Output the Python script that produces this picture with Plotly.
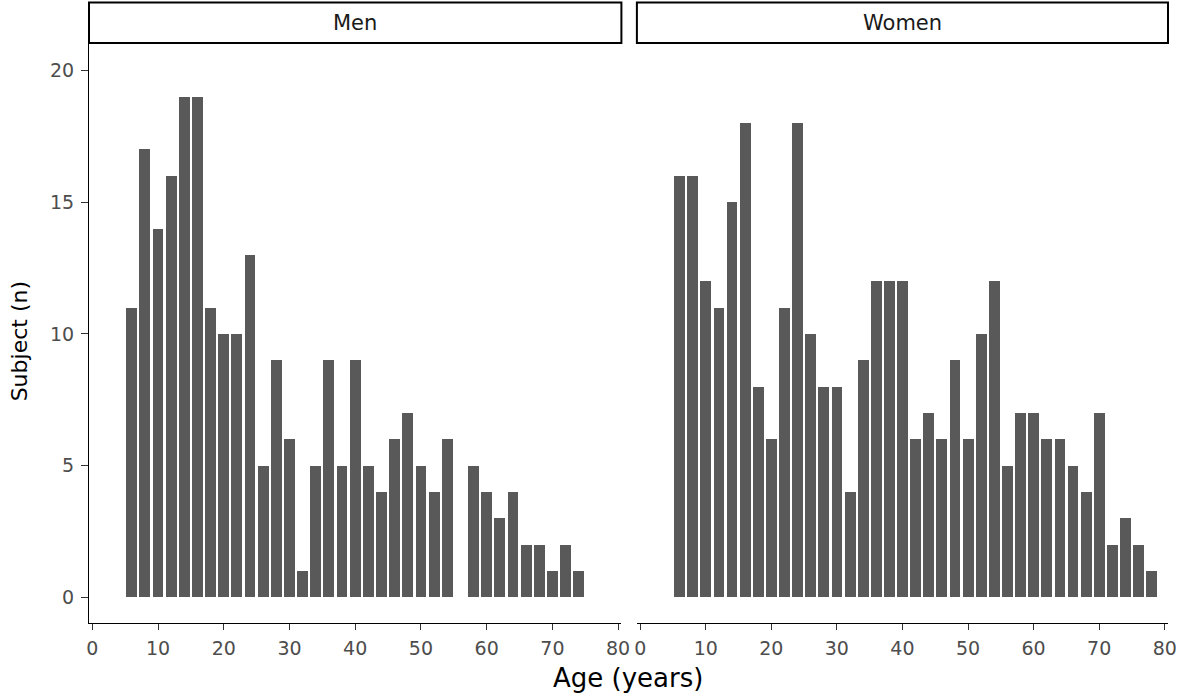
import plotly.graph_objects as go

# Data (age bin centres, counts)
ages_men = [6, 8, 10, 12, 14, 16, 18, 20, 22, 24, 26, 28, 30, 32, 34, 36, 38, 40,
            42, 44, 46, 48, 50, 52, 54, 56, 58, 60, 62, 64, 66, 68, 70, 72, 74]
count_men = [11, 17, 14, 16, 19, 19, 11, 10, 10, 13, 5, 9, 6, 1, 5, 9, 5, 9,
             5, 4, 6, 7, 5, 4, 6, 0, 5, 4, 3, 4, 2, 2, 1, 2, 1]
ages_women = [6, 8, 10, 12, 14, 16, 18, 20, 22, 24, 26, 28, 30, 32, 34, 36, 38, 40,
              42, 44, 46, 48, 50, 52, 54, 56, 58, 60, 62, 64, 66, 68, 70, 72, 74, 76, 78]
count_women = [16, 16, 12, 11, 15, 18, 8, 6, 11, 18, 10, 8, 8, 4, 9, 12, 12, 12,
               6, 7, 6, 9, 6, 10, 12, 5, 7, 7, 6, 6, 5, 4, 7, 2, 3, 2, 1]
panels = ["Men", "Women"]
x_ticks = [0, 10, 20, 30, 40, 50, 60, 70, 80]
y_ticks = [0, 5, 10, 15, 20]

BAR = "#595959"
FONT = "DejaVu Sans, Verdana, sans-serif"

fig = go.Figure()
fig.add_trace(go.Bar(x=ages_men, y=count_men, width=1.65,
                     marker=dict(color=BAR, line=dict(width=0)),
                     xaxis="x", yaxis="y", showlegend=False))
fig.add_trace(go.Bar(x=ages_women, y=count_women, width=1.65,
                     marker=dict(color=BAR, line=dict(width=0)),
                     xaxis="x2", yaxis="y2", showlegend=False))

W, H = 1181, 696
ml, mr, mt, mb = 88.7, 12.5, 43.3, 72.7
pw = W - ml - mr
ph = H - mt - mb
d1_end = (621.5 - ml) / pw
d2_start = (637.0 - ml) / pw

tickfont = dict(family=FONT, size=19, color="#4d4d4d")
xcommon = dict(range=[-0.5, 80.5], tickvals=x_ticks, ticks="outside", ticklen=6, tickwidth=1,
               tickcolor="#333333", showline=True, linecolor="black", linewidth=1.2,
               showgrid=False, zeroline=False, tickfont=tickfont, ticklabelstandoff=2)
ycommon = dict(range=[-0.97, 21.04], showgrid=False, zeroline=False)

fig.update_layout(
    width=W, height=H,
    margin=dict(l=ml, r=mr, t=mt, b=mb, autoexpand=False),
    paper_bgcolor="white", plot_bgcolor="white",
    bargap=0,
    xaxis=dict(domain=[0, d1_end], anchor="y", automargin=False, **xcommon),
    xaxis2=dict(domain=[d2_start, 1], anchor="y2", automargin=False, **xcommon),
    yaxis=dict(domain=[0, 1], anchor="x", tickvals=y_ticks, ticks="outside", ticklen=7,
               tickcolor="#333333", showline=True, linecolor="black", linewidth=1.2,
               tickfont=tickfont, ticklabelstandoff=3, automargin=False, **ycommon),
    yaxis2=dict(domain=[0, 1], anchor="x2", showticklabels=False, showline=False, ticks="",
                automargin=False, **ycommon),
    font=dict(family=FONT),
)

strip_top = 1 + (mt - 2.7) / ph
for i, name in enumerate(panels):
    xr = "x domain" if i == 0 else "x2 domain"
    yr = "y domain" if i == 0 else "y2 domain"
    fig.add_shape(type="rect", xref=xr, yref=yr, x0=0, x1=1, y0=1.0, y1=strip_top,
                  line=dict(color="black", width=2), fillcolor="white", layer="above")
    fig.add_annotation(xref=xr, yref=yr, x=0.5, y=(1 + strip_top) / 2, text=name,
                       showarrow=False, font=dict(family=FONT, size=21, color="#1a1a1a"),
                       xanchor="center", yanchor="middle")

fig.add_annotation(xref="paper", yref="paper", x=(628 - ml) / pw,
                   y=-(678 - (H - mb)) / ph,
                   text="Age (years)", showarrow=False, xanchor="center", yanchor="middle",
                   font=dict(family=FONT, size=26, color="black"))
fig.add_annotation(xref="paper", yref="paper", x=(19 - ml) / pw, y=0.5 - 8 / ph, textangle=-90,
                   text="Subject (n)", showarrow=False, xanchor="center", yanchor="middle",
                   font=dict(family=FONT, size=22, color="black"))

fig.write_html("out.html",
               config={"displayModeBar": False},
               post_script="document.body.style.margin='0';document.body.style.padding='0';"
                           "document.body.style.overflow='hidden';")
